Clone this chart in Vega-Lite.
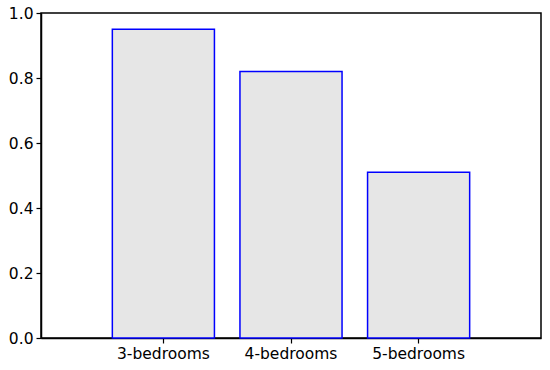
{
  "$schema": "https://vega.github.io/schema/vega-lite/v6.json",
  "width": 500,
  "height": 325,
  "autosize": {"type": "none"},
  "padding": {"left": 41, "top": 13, "right": 9, "bottom": 32},
  "background": "white",
  "data": {"values": [
    {"category": "3-bedrooms", "value": 0.95},
    {"category": "4-bedrooms", "value": 0.82},
    {"category": "5-bedrooms", "value": 0.51}
  ]},
  "mark": {"type": "bar", "fill": "#e6e6e6", "stroke": "#0000ff", "strokeWidth": 1.5},
  "encoding": {
    "x": {
      "field": "category", "type": "nominal", "sort": null,
      "scale": {"paddingInner": 0.2, "paddingOuter": 0.559},
      "axis": {"title": null, "labelAngle": 0, "labelFontSize": 15.5, "labelFont": "DejaVu Sans", "labelColor": "black",
               "domainColor": "black", "domainWidth": 1.5, "tickColor": "black", "tickSize": 5, "tickWidth": 1.2, "labelPadding": 3}
    },
    "y": {
      "field": "value", "type": "quantitative",
      "scale": {"domain": [0, 1], "nice": false},
      "axis": {"title": null, "values": [0, 0.2, 0.4, 0.6, 0.8, 1.0], "format": ".1f", "grid": false,
               "labelFontSize": 15.5, "labelFont": "DejaVu Sans", "labelColor": "black",
               "domainColor": "black", "domainWidth": 1.5, "tickColor": "black", "tickSize": 5, "tickWidth": 1.2, "labelPadding": 3}
    }
  },
  "config": {"view": {"stroke": "black", "strokeWidth": 1.5}}
}
